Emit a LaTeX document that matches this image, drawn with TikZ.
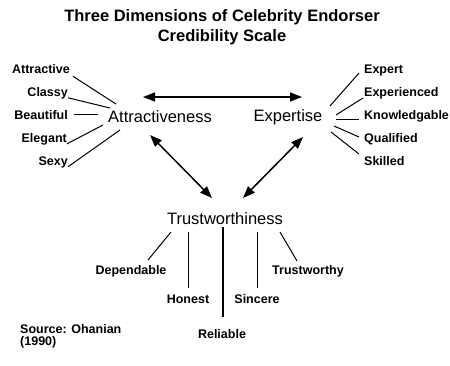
\documentclass[tikz,border=0pt]{standalone}
\usepackage{fontspec}
\setmainfont{Liberation Sans}
\usetikzlibrary{arrows.meta}

\tikzset{
  hub/.style={font=\fontsize{16.5}{18}\selectfont, inner sep=0pt, anchor=base},
  trait/.style={font=\bfseries\fontsize{12.5}{12}\selectfont, inner sep=0pt},
  spoke/.style={line width=1pt},
  link/.style={line width=1.5pt, {Triangle[length=12pt,width=9pt]}-{Triangle[length=12pt,width=9pt]}}
}

\begin{document}
\begin{tikzpicture}[x=1pt,y=-1pt]
\useasboundingbox (0,0) rectangle (450,366);
%title
\node[font=\bfseries\fontsize{16.5}{20}\selectfont, align=center, anchor=base, inner sep=0pt] (title) at (222,42) {Three Dimensions of Celebrity Endorser\\Credibility Scale};

%dimensions
\node[hub] (attrv) at (160,123) {Attractiveness};
\node[hub] (expert) at (288,122) {Expertise};
\node[hub] (trust) at (225,225) {Trustworthiness};

%arrows between dimensions
\coordinate (aL) at (143,97);
\coordinate (aR) at (302,97);
\coordinate (dA) at (150,135);
\coordinate (dT) at (212,198);
\coordinate (eE) at (303,137);
\coordinate (eT) at (243,198);
\draw[link] (aL) -- (aR);
\draw[link] (dA) -- (dT);
\draw[link] (eE) -- (eT);

%attractiveness traits
\node[trait, anchor=base east] (attractive) at (70,74) {Attractive};
\node[trait, anchor=base east] (classy) at (68,97) {Classy};
\node[trait, anchor=base east] (beautiful) at (68,120) {Beautiful};
\node[trait, anchor=base east] (elegant) at (67,143) {Elegant};
\node[trait, anchor=base east] (sexy) at (68,166) {Sexy};
\coordinate (a1) at (116,104);
\coordinate (a2) at (110,108);
\coordinate (a3) at (98,115);
\coordinate (a4) at (103,125);
\coordinate (a5) at (120,130);
\draw[spoke] ([xshift=3pt,yshift=-2pt]attractive.south east) -- (a1);
\draw[spoke] ([yshift=2pt]classy.south east) -- (a2);
\draw[spoke] ([xshift=6pt]beautiful.east |- a3) -- (a3);
\draw[spoke] ([yshift=2pt]elegant.south east) -- (a4);
\draw[spoke] ([yshift=2pt]sexy.south east) -- (a5);

%expertise traits
\node[trait, anchor=base west] (expt) at (364,74) {Expert};
\node[trait, anchor=base west] (experienced) at (364,97) {Experienced};
\node[trait, anchor=base west] (knowledgable) at (364,120) {Knowledgable};
\node[trait, anchor=base west] (qualified) at (364,143) {Qualified};
\node[trait, anchor=base west] (skilled) at (364,166) {Skilled};
\coordinate (e1) at (330,106);
\coordinate (e2) at (336,115);
\coordinate (e3) at (336,120);
\coordinate (e4) at (334,126);
\coordinate (e5) at (331,132);
\draw[spoke] (e1) -- (359,73);
\draw[spoke] (e2) -- (363,98);
\draw[spoke] (e3) -- (359,120);
\draw[spoke] (e4) -- (359,137);
\draw[spoke] (e5) -- (359,154);

%trustworthiness traits
\node[trait, anchor=base] (dependable) at (131,275) {Dependable};
\node[trait, anchor=base] (honest) at (188,304) {Honest};
\node[trait, anchor=base] (reliable) at (222,338) {Reliable};
\node[trait, anchor=base] (sincere) at (257,304) {Sincere};
\node[trait, anchor=base] (trustworthy) at (308,275) {Trustworthy};
\draw[spoke] (171,232) -- (148,260);
\draw[spoke] (188,232) -- (188,288);
\draw[line width=2pt] (223,227) -- (223,317);
\draw[spoke] (257,232) -- (257,288);
\draw[spoke] (280,232) -- (297,261);

%source
\node[trait, anchor=base west, align=left] (source) at (20,345) {Source: Ohanian\\(1990)};
\end{tikzpicture}
\end{document}
